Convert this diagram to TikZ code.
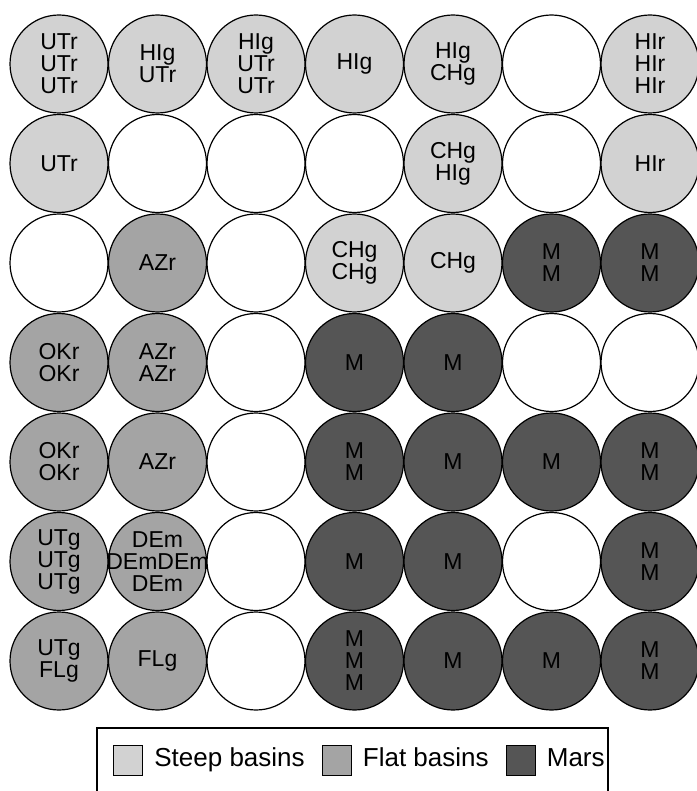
\documentclass[tikz,border=0pt]{standalone}
\usepackage{fontspec}
\setmainfont{Liberation Sans}
\usepackage{tikz}
\usetikzlibrary{positioning}

\definecolor{steepgray}{HTML}{D2D2D2}
\definecolor{flatgray}{HTML}{A4A4A4}
\definecolor{marsgray}{HTML}{555555}
\newcommand{\unitfont}{\fontsize{23}{22}\selectfont}
\newcommand{\keyfont}{\fontsize{26}{30}\selectfont}

\begin{document}
\begin{tikzpicture}[
        node distance=0.3pt and -0.7pt,
        basin/.style={circle, draw, line width=1.2pt, minimum size=98pt, inner sep=0pt, align=center, font=\unitfont},
        steep/.style={basin, fill=steepgray},
        flat/.style={basin, fill=flatgray},
        mars/.style={basin, fill=marsgray},
        blank/.style={basin, fill=white},
        swatch/.style={rectangle, draw, line width=0.8pt, minimum width=29pt, minimum height=30pt, inner sep=0pt},
        keytext/.style={inner sep=0pt, font=\keyfont, text height=19pt, text depth=5.5pt}
    ]
        \useasboundingbox (0,0) rectangle (696pt,-791pt);

        % row 1
        \node[steep] (r1c1) at (59pt,-64pt) {UTr\\UTr\\UTr};
        \node[steep, right=of r1c1] (r1c2) {HIg\\UTr};
        \node[steep, right=of r1c2] (r1c3) {HIg\\UTr\\UTr};
        \node[steep, right=of r1c3] (r1c4) {HIg};
        \node[steep, right=of r1c4] (r1c5) {HIg\\CHg};
        \node[blank, right=of r1c5] (r1c6) {};
        \node[steep, right=of r1c6] (r1c7) {HIr\\HIr\\HIr};

        % row 2
        \node[steep, below=of r1c1] (r2c1) {UTr};
        \node[blank, right=of r2c1] (r2c2) {};
        \node[blank, right=of r2c2] (r2c3) {};
        \node[blank, right=of r2c3] (r2c4) {};
        \node[steep, right=of r2c4] (r2c5) {CHg\\HIg};
        \node[blank, right=of r2c5] (r2c6) {};
        \node[steep, right=of r2c6] (r2c7) {HIr};

        % row 3
        \node[blank, below=of r2c1] (r3c1) {};
        \node[flat, right=of r3c1] (r3c2) {AZr};
        \node[blank, right=of r3c2] (r3c3) {};
        \node[steep, right=of r3c3] (r3c4) {CHg\\CHg};
        \node[steep, right=of r3c4] (r3c5) {CHg};
        \node[mars, right=of r3c5] (r3c6) {M\\M};
        \node[mars, right=of r3c6] (r3c7) {M\\M};

        % row 4
        \node[flat, below=of r3c1] (r4c1) {OKr\\OKr};
        \node[flat, right=of r4c1] (r4c2) {AZr\\AZr};
        \node[blank, right=of r4c2] (r4c3) {};
        \node[mars, right=of r4c3] (r4c4) {M};
        \node[mars, right=of r4c4] (r4c5) {M};
        \node[blank, right=of r4c5] (r4c6) {};
        \node[blank, right=of r4c6] (r4c7) {};

        % row 5
        \node[flat, below=of r4c1] (r5c1) {OKr\\OKr};
        \node[flat, right=of r5c1] (r5c2) {AZr};
        \node[blank, right=of r5c2] (r5c3) {};
        \node[mars, right=of r5c3] (r5c4) {M\\M};
        \node[mars, right=of r5c4] (r5c5) {M};
        \node[mars, right=of r5c5] (r5c6) {M};
        \node[mars, right=of r5c6] (r5c7) {M\\M};

        % row 6 (middle line runs over the rim)
        \node[flat, below=of r5c1] (r6c1) {UTg\\UTg\\UTg};
        \node[flat, right=of r6c1] (r6c2) {DEm\\\makebox[50pt]{DEmDEm}\\DEm};
        \node[blank, right=of r6c2] (r6c3) {};
        \node[mars, right=of r6c3] (r6c4) {M};
        \node[mars, right=of r6c4] (r6c5) {M};
        \node[blank, right=of r6c5] (r6c6) {};
        \node[mars, right=of r6c6] (r6c7) {M\\M};

        % row 7
        \node[flat, below=of r6c1] (r7c1) {UTg\\FLg};
        \node[flat, right=of r7c1] (r7c2) {FLg};
        \node[blank, right=of r7c2] (r7c3) {};
        \node[mars, right=of r7c3] (r7c4) {M\\M\\M};
        \node[mars, right=of r7c4] (r7c5) {M};
        \node[mars, right=of r7c5] (r7c6) {M};
        \node[mars, right=of r7c6] (r7c7) {M\\M};

        % legend
        \node[draw, line width=1.2pt, minimum width=511pt, minimum height=64pt, inner sep=0pt] (legend) at (352.5pt,-760pt) {};
        \node[swatch, fill=steepgray, right=17pt of legend.west] (steepkey) {};
        \node[keytext, right=11pt of steepkey] (steeptext) {Steep basins};
        \node[swatch, fill=flatgray, right=17pt of steeptext] (flatkey) {};
        \node[keytext, right=11pt of flatkey] (flattext) {Flat basins};
        \node[swatch, fill=marsgray, right=17pt of flattext] (marskey) {};
        \node[keytext, right=11pt of marskey] (marstext) {Mars};
    \end{tikzpicture}
\end{document}
